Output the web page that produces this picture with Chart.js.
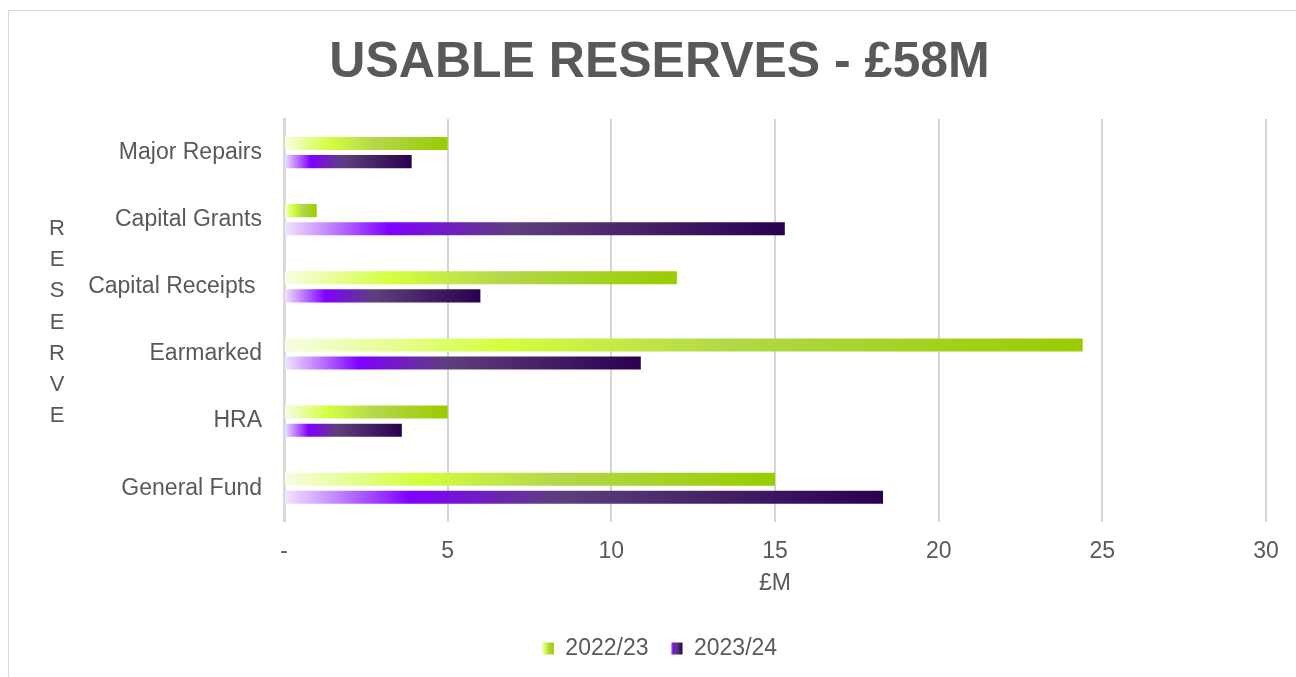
<!DOCTYPE html>
<html>
<head>
<meta charset="utf-8">
<script src="https://cdn.jsdelivr.net/npm/chart.js@4"></script>
<style>
  body { margin: 0; background: #fff; overflow: hidden; }
  #frame { position: absolute; left: 8px; top: 10px; width: 1400px; height: 800px; border: 1px solid #d9d9d9; }
  #wrap { position: absolute; left: 0; top: 0; width: 1296px; height: 677px; }
</style>
</head>
<body>
<div id="frame"></div>
<div id="wrap"><canvas id="myChart"></canvas></div>
<script>
const categories = ['Major Repairs', 'Capital Grants', 'Capital Receipts ', 'Earmarked', 'HRA', 'General Fund'];
const series2223 = [5, 1, 12, 24.4, 5, 15];
const series2324 = [3.9, 15.3, 6.0, 10.9, 3.6, 18.3];
const seriesNames = ['2022/23', '2023/24'];
const xTicks = [0, 5, 10, 15, 20, 25, 30];
const axisLetters = ['R', 'E', 'S', 'E', 'R', 'V', 'E'];

const textColor = '#595959';
const font = 'Liberation Sans, Arial, sans-serif';

const greenStops = [[0, '#f7fde4'], [0.27, '#d4ff40'], [0.55, '#b3d84a'], [1, '#99cc00']];
const purpleStops = [[0, '#f3e6fd'], [0.21, '#8000ff'], [0.46, '#5e3f7c'], [1, '#2a0050']];

function barGradient(ctx, stops) {
    const chart = ctx.chart;
    if (ctx.type !== 'data' || !chart.chartArea) return stops[stops.length - 1][1];
    const xs = chart.scales.x;
    const x0 = xs.getPixelForValue(0);
    const x1 = xs.getPixelForValue(ctx.raw);
    const g = chart.ctx.createLinearGradient(x0, 0, Math.max(x1, x0 + 1), 0);
    stops.forEach(s => g.addColorStop(s[0], s[1]));
    return g;
}

// vertical "RESERVE" axis title + gradient legend boxes
const extras = {
    id: 'extras',
    beforeDraw(chart) {
        const lg = chart.legend;
        if (lg && lg.legendHitBoxes) {
            const all = [greenStops, purpleStops];
            lg.legendItems.forEach((item, i) => {
                const box = lg.legendHitBoxes[i];
                const g = chart.ctx.createLinearGradient(box.left, 0, box.left + 12, 0);
                all[i].forEach(s => g.addColorStop(s[0], s[1]));
                item.fillStyle = g;
            });
        }
    },
    afterDraw(chart) {
        const c = chart.ctx;
        c.save();
        c.fillStyle = textColor;
        c.font = '22px ' + font;
        c.textAlign = 'center';
        c.textBaseline = 'middle';
        axisLetters.forEach((l, i) => c.fillText(l, 57, 229 + i * 31.2));
        c.restore();
    }
};

const ctx = document.getElementById('myChart');

new Chart(ctx, {
    type: 'bar',
    data: {
        labels: categories,
        datasets: [{
            label: seriesNames[0],
            data: series2223,
            backgroundColor: c => barGradient(c, greenStops),
            categoryPercentage: 0.54,
            barPercentage: 0.72
        }, {
            label: seriesNames[1],
            data: series2324,
            backgroundColor: c => barGradient(c, purpleStops),
            categoryPercentage: 0.54,
            barPercentage: 0.72
        }]
    },
    plugins: [extras],
    options: {
        indexAxis: 'y',
        responsive: true,
        maintainAspectRatio: false,
        animation: false,
        layout: { padding: { left: 53, right: 30, top: 0, bottom: 7 } },
        scales: {
            x: {
                min: 0,
                max: 30,
                afterBuildTicks: s => { s.ticks = xTicks.map(v => ({ value: v })); },
                ticks: {
                    color: textColor,
                    font: { family: font, size: 23 },
                    padding: 16,
                    callback: v => v === 0 ? '-' : v
                },
                grid: {
                    color: c => c.index === 0 ? 'rgba(0,0,0,0)' : '#d4d4d4',
                    lineWidth: 2,
                    drawTicks: false
                },
                border: { display: false },
                title: {
                    display: true,
                    text: '£M',
                    color: textColor,
                    font: { family: font, size: 23 },
                    padding: { top: -12, bottom: 18 }
                }
            },
            y: {
                afterFit: s => { s.width = 231; },
                ticks: {
                    color: textColor,
                    font: { family: font, size: 23 },
                    padding: 14
                },
                grid: { display: false },
                border: { display: true, color: '#d9d9d9', width: 3 }
            }
        },
        plugins: {
            title: {
                display: true,
                text: 'USABLE RESERVES - £58M',
                color: textColor,
                font: { family: font, size: 50, weight: 'bold' },
                padding: { top: 33, bottom: 26 }
            },
            legend: {
                position: 'bottom',
                labels: {
                    color: textColor,
                    font: { family: font, size: 23 },
                    boxWidth: 12,
                    boxHeight: 12,
                    padding: 22
                }
            },
            tooltip: { enabled: false }
        }
    }
});
</script>
</body>
</html>
